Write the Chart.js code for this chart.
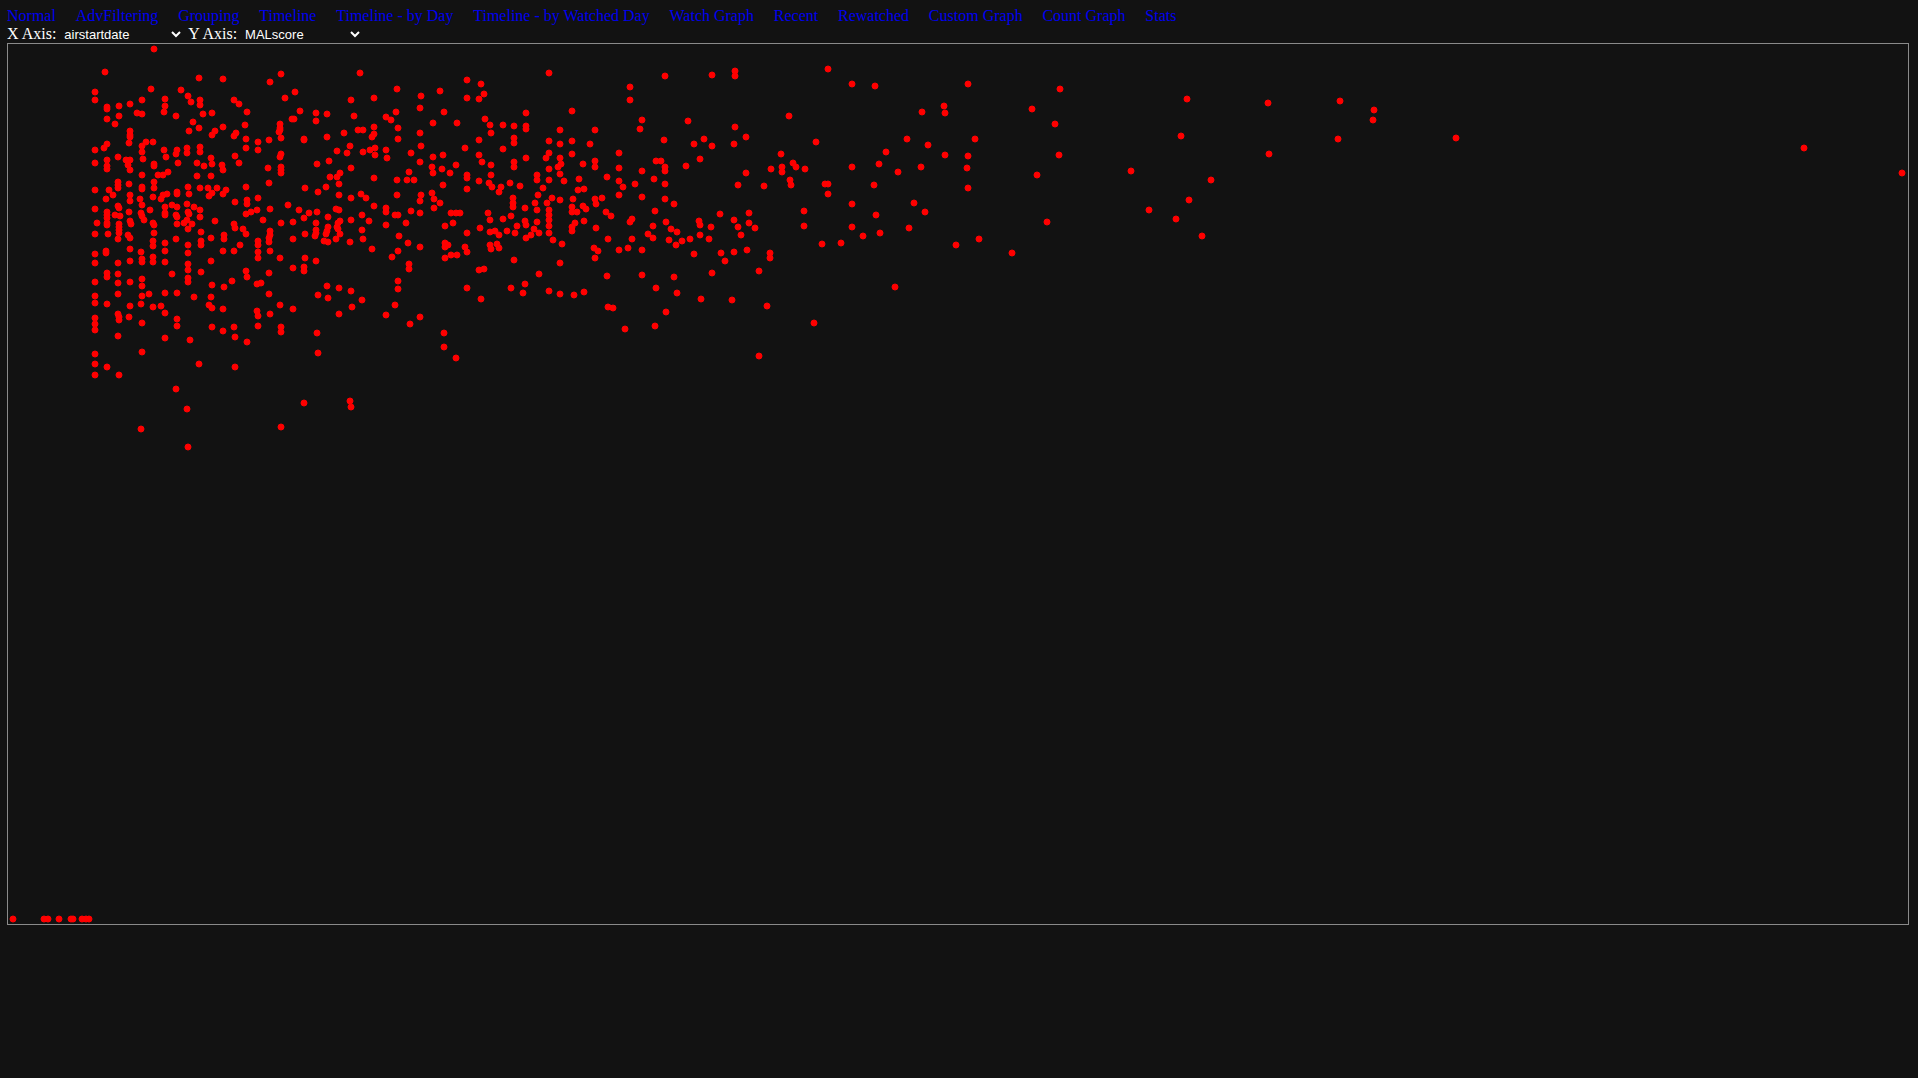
<!DOCTYPE html>
<html>
<head>
<meta charset="utf-8">
<script src="https://cdn.jsdelivr.net/npm/chart.js@4"></script>
<style>
  html, body { margin:0; padding:0; background:#121212; }
  body { width:1918px; height:1078px; overflow:hidden; position:relative; }
  #nav { position:absolute; left:7px; top:6px; display:flex; gap:19.8px; font:16px "Liberation Serif", "Times New Roman", serif; line-height:19px; white-space:nowrap; }
  #nav a { color:#0000ee; text-decoration:none; }
  #ctl { position:absolute; left:7px; top:25px; font:16px "Liberation Serif", "Times New Roman", serif; color:#fff; line-height:18px; white-space:nowrap; display:flex; align-items:center; }
  #ctl select { background:#121212; color:#fff; border:none; font:13px "Liberation Sans", Arial, sans-serif; height:18px; padding:0; margin:0 4px 0 4px; color-scheme:dark; }
  #box { position:absolute; left:7px; top:43px; width:1900px; height:880px; border:1px solid #8a8a8a; }
</style>
</head>
<body>
<div id="nav">
  <a href="#">Normal</a><a href="#">AdvFiltering</a><a href="#">Grouping</a><a href="#">Timeline</a><a href="#">Timeline - by Day</a><a href="#">Timeline - by Watched Day</a><a href="#">Watch Graph</a><a href="#">Recent</a><a href="#">Rewatched</a><a href="#">Custom Graph</a><a href="#">Count Graph</a><a href="#">Stats</a>
</div>
<div id="ctl">
  <span>X Axis:</span>
  <select id="xsel" style="width:124px"><option>airstartdate</option></select>
  <span>Y Axis:</span>
  <select id="ysel" style="width:122px"><option>MALscore</option></select>
</div>
<div id="box"><canvas id="c"></canvas></div>
<script>
// x = airstartdate (decimal year), y = MALscore
const xAxisField = "airstartdate";
const yAxisField = "MALscore";

const unscored = [
[2005.13,0],[2005.44,0],[2005.48,0],[2005.59,0],[2005.71,0],[2005.73,0],[2005.82,0],[2005.86,0],[2005.89,0]
];

const earlyTitles = [
[2006.54,8.70],[2006.05,8.47],[2006.99,8.41],[2007.23,8.40],[2007.81,8.45],[2007.70,8.37],[2008.60,8.46],
[2005.95,8.27],[2005.95,8.19],[2006.51,8.30],[2006.81,8.29],[2006.88,8.23],[2006.91,8.17],[2006.42,8.19],
[2006.30,8.15],[2006.19,8.13],[2006.07,8.12],[2006.07,8.10],[2006.65,8.20],[2006.65,8.13],[2006.64,8.07],
[2007.00,8.19],[2007.00,8.14],[2007.34,8.19],[2007.39,8.15],[2007.85,8.21],[2007.95,8.27],[2008.51,8.19],
[2008.74,8.21],[2008.97,8.30],[2009.21,8.23],[2009.40,8.28],[2009.20,8.11],[2009.44,8.07],[2006.37,8.06],
[2006.42,8.05],[2006.19,8.03],[2006.07,8.00],[2006.15,7.95],[2006.76,8.03],[2007.03,8.05],[2007.12,8.06],
[2006.93,7.97],[2006.89,7.88],[2006.99,7.91],[2007.47,8.07],[2007.45,7.94],[2008.00,8.08],[2007.92,8.00],
[2007.94,8.00],[2008.16,8.06],[2008.27,8.05],[2008.16,7.98],[2008.54,8.03],[2008.86,8.02],[2008.91,7.99],
[2008.96,8.07],[2009.33,7.96],[2009.57,7.96],[2007.80,7.95],[2007.80,7.91],[2007.80,7.89],[2006.30,7.88],
[2006.30,7.84],[2006.30,7.82],[2006.29,7.76],[2007.23,7.92],[2007.15,7.88],[2007.12,7.84],[2007.36,7.86],
[2007.34,7.83],[2007.46,7.80],[2007.58,7.77],[2007.69,7.79],[2007.81,7.81],[2007.79,7.87],[2008.04,7.80],
[2008.04,7.79],[2008.27,7.82],[2008.44,7.86],[2008.58,7.89],[2008.63,7.89],[2008.74,7.92],[2008.74,7.85],
[2008.72,7.82],[2008.98,7.91],[2008.98,7.80],[2009.20,7.86],[2009.21,7.73],[2005.95,7.69],[2006.04,7.71],
[2006.07,7.75],[2006.42,7.73],[2006.46,7.77],[2006.53,7.77],[2006.42,7.67],[2006.64,7.69],[2006.66,7.62],
[2006.77,7.69],[2006.76,7.65],[2006.87,7.71],[2006.87,7.66],[2007.00,7.72],[2007.00,7.67],[2007.46,7.71],
[2007.58,7.69],[2007.81,7.65],[2007.80,7.62],[2008.37,7.68],[2008.50,7.73],[2008.47,7.66],[2008.63,7.67],
[2008.70,7.69],[2008.75,7.71],[2008.75,7.64],[2008.86,7.69],[2008.87,7.61],[2009.11,7.66],[2009.33,7.62],
[2009.43,7.64],[2005.95,7.56],[2006.07,7.59],[2006.18,7.62],[2006.26,7.59],[2006.30,7.59],[2006.28,7.54],
[2006.43,7.60],[2007.35,7.63],[2007.39,7.56],[2007.11,7.61],[2007.12,7.55],[2007.04,7.53],[2007.22,7.54],
[2007.23,7.49],[2008.17,7.55],[2008.29,7.58],[2006.07,7.53],[2006.07,7.50],[2006.54,7.55],[2006.54,7.53],
[2006.78,7.56],[2006.97,7.56],[2006.30,7.49],[2006.42,7.44],[2006.58,7.44],[2006.63,7.44],[2006.68,7.47],
[2006.97,7.43],[2007.11,7.43],[2007.68,7.51],[2007.81,7.52],[2007.81,7.49],[2007.81,7.46],[2008.30,7.42],
[2008.37,7.42],[2008.40,7.46],[2008.51,7.51],[2008.74,7.41],[2008.97,7.39],[2009.09,7.47],[2009.07,7.39],
[2009.14,7.39],[2009.20,7.57],[2009.32,7.52],[2009.33,7.46],[2009.42,7.50],[2009.50,7.46],[2009.56,7.54],
[2006.18,7.37],[2006.18,7.34],[2006.18,7.31],[2006.29,7.35],[2006.42,7.32],[2006.42,7.30],[2006.54,7.37],
[2006.54,7.31],[2005.95,7.29],[2006.09,7.29],[2006.13,7.24],[2006.30,7.24],[2006.30,7.18],[2006.53,7.22],
[2006.63,7.24],[2006.67,7.25],[2006.77,7.27],[2006.77,7.25],[2006.88,7.32],[2006.89,7.25],[2007.00,7.31],
[2007.08,7.31],[2007.17,7.31],[2007.26,7.29],[2007.12,7.26],[2007.09,7.23],[2007.23,7.25],[2007.46,7.32],
[2007.69,7.36],[2008.05,7.31],[2008.26,7.32],[2008.18,7.27],[2008.39,7.35],[2008.39,7.24],[2008.51,7.21],
[2008.61,7.25],[2008.66,7.21],[2008.97,7.24],[2009.21,7.24],[2009.20,7.18],[2009.32,7.26],[2009.34,7.20],
[2009.40,7.16],[2009.43,7.34],[2006.06,7.20],[2006.40,7.20],[2006.42,7.14],[2006.61,7.20],[2006.65,7.12],
[2006.72,7.14],[2006.77,7.12],[2006.87,7.15],[2006.94,7.12],[2007.00,7.09],[2006.18,7.13],[2006.19,7.11],
[2005.95,7.10],[2007.35,7.17],[2007.47,7.19],[2007.47,7.15],[2007.58,7.21],[2007.88,7.14],[2007.99,7.09],
[2007.70,7.10],[2007.46,7.05],[2007.51,7.07],[2007.57,7.09],[2008.09,7.06],[2008.17,7.07],[2008.36,7.10],
[2008.39,7.09],[2008.28,7.02],[2008.38,6.96],[2008.40,6.98],[2008.51,6.99],[2008.74,7.13],[2008.86,7.11],
[2008.86,7.07],[2008.95,7.04],[2008.98,7.04],[2009.11,7.08],[2009.20,7.06],[2009.34,7.11],[2009.51,7.06],
[2009.56,7.06],[2009.60,7.06],[2006.07,7.07],[2006.07,7.04],[2006.07,7.01],[2006.15,7.04],[2006.20,7.03],
[2006.29,7.07],[2006.41,7.06],[2006.42,7.03],[2006.50,7.09],[2006.65,7.06],[2006.65,7.04],[2006.76,7.04],
[2006.77,7.02],[2006.88,7.07],[2006.89,7.05],[2007.00,7.02],[2007.63,6.99],[2008.62,7.04],[2008.69,6.98],
[2005.97,6.96],[2006.07,6.96],[2006.07,6.94],[2006.19,6.95],[2006.19,6.92],[2006.19,6.89],[2006.19,6.86],
[2006.30,6.98],[2006.31,6.95],[2006.44,6.99],[2006.53,6.96],[2006.54,6.94],[2006.77,6.95],[2006.84,6.96],
[2006.87,6.99],[2006.92,6.95],[2006.88,6.90],[2007.15,6.98],[2007.34,6.95],[2007.35,6.91],[2007.81,6.96],
[2007.93,6.97],[2008.04,7.01],[2008.16,6.96],[2008.16,6.89],[2008.28,6.92],[2008.27,6.88],[2008.26,6.85],
[2008.37,6.92],[2008.38,6.90],[2008.40,6.85],[2008.86,6.94],[2009.06,6.96],[2009.53,6.96],[2009.45,6.93],
[2005.95,6.85],[2006.08,6.85],[2006.28,6.84],[2006.30,6.81],[2006.54,6.86],[2007.01,6.87],[2007.43,6.90],
[2007.46,6.85],[2007.70,6.88],[2007.70,6.84],[2007.69,6.81],[2007.69,6.77],[2008.05,6.85],[2008.16,6.86],
[2008.15,6.83],[2008.99,6.83],[2008.62,6.89],[2006.18,6.80],[2006.76,6.80],[2007.11,6.81],[2007.24,6.84],
[2007.24,6.80],[2007.93,6.80],[2008.24,6.78],[2008.28,6.77],[2008.36,6.80],[2008.50,6.77],[2008.63,6.80],
[2009.08,6.76],[2009.20,6.72],[2009.45,6.76],[2009.48,6.74],[2009.45,6.72],[2006.53,6.78],[2006.53,6.73],
[2006.65,6.76],[2006.88,6.74],[2007.01,6.78],[2007.01,6.74],[2007.40,6.74],[2007.58,6.78],[2007.58,6.74],
[2006.30,6.70],[2006.06,6.68],[2006.06,6.66],[2005.95,6.65],[2006.41,6.67],[2006.65,6.68],[2006.88,6.66],
[2007.23,6.68],[2007.34,6.68],[2007.58,6.67],[2007.70,6.68],[2008.72,6.70],[2008.98,6.68],[2009.51,6.64],
[2009.57,6.64],
[2005.95,6.56],[2006.18,6.56],[2006.30,6.58],[2006.42,6.60],[2006.42,6.57],[2006.53,6.62],[2006.53,6.57],
[2006.65,6.57],[2006.88,6.55],[2006.88,6.49],[2006.88,6.41],[2006.88,6.37],[2007.11,6.58],[2007.58,6.61],
[2007.80,6.61],[2008.05,6.61],[2008.04,6.52],[2008.04,6.48],[2008.16,6.58],[2008.92,6.62],[2009.09,6.55],
[2009.09,6.50],[2009.45,6.61],[2006.07,6.46],[2006.07,6.42],[2006.18,6.45],[2005.95,6.37],[2006.18,6.36],
[2006.30,6.37],[2006.42,6.40],[2006.42,6.33],[2006.72,6.45],[2007.01,6.47],[2007.46,6.48],[2007.47,6.42],
[2007.69,6.46],[2007.93,6.51],[2007.12,6.34],[2007.24,6.32],[2007.32,6.38],[2007.57,6.35],[2007.61,6.36],
[2008.27,6.33],[2008.39,6.31],[2008.51,6.28],[2008.98,6.38],[2008.98,6.30],[2005.95,6.23],[2006.18,6.25],
[2006.42,6.23],[2006.49,6.25],[2006.65,6.26],[2006.77,6.26],[2006.94,6.22],[2007.11,6.22],[2007.69,6.25],
[2008.18,6.24],[2008.28,6.21],[2008.62,6.19],[2005.95,6.16],[2006.07,6.15],[2006.30,6.13],[2006.41,6.15],
[2006.53,6.12],[2006.61,6.13],[2007.09,6.14],[2007.12,6.11],[2007.23,6.10],[2007.57,6.08],[2007.58,6.03],
[2007.80,6.14],[2007.93,6.10],[2007.70,6.05],[2008.52,6.12],[2008.39,6.05],[2008.95,6.14],[2008.86,6.04],
[2009.20,6.02],[2009.10,5.95],[2006.18,6.05],[2006.19,6.02],[2006.19,5.99],[2006.29,6.02],[2006.65,6.06],
[2006.77,6.00],[2005.95,6.01],[2005.95,5.95],[2005.95,5.89],[2006.42,5.96],[2006.77,5.93],[2007.12,5.92],
[2007.23,5.88],[2007.34,5.92],[2007.58,5.93],[2007.81,5.92],[2007.81,5.87],[2008.17,5.86],[2009.44,5.86],
[2006.18,5.83],[2006.65,5.81],[2006.90,5.79],[2007.35,5.82],[2007.47,5.77],[2009.44,5.72],[2009.56,5.61],
[2006.42,5.67],[2008.18,5.66],[2005.95,5.65],[2005.95,5.55],[2006.07,5.52],[2005.95,5.44],[2006.19,5.44],
[2006.99,5.55],[2007.35,5.52],[2006.76,5.30],[2006.87,5.10],[2008.04,5.16],[2008.50,5.18],[2008.51,5.12],
[2006.41,4.90],[2007.81,4.92],[2006.88,4.72]
];

const midTitles = [
[2010.49,8.46],[2009.67,8.39],[2009.81,8.35],[2009.84,8.25],[2009.67,8.21],[2009.79,8.20],[2011.65,8.43],
[2012.12,8.44],[2012.35,8.48],[2012.35,8.43],[2013.28,8.50],[2011.30,8.32],[2011.30,8.19],[2010.72,8.08],
[2010.26,8.06],[2009.85,8.00],[2009.90,7.94],[2009.91,7.86],[2010.03,7.94],[2010.14,7.93],[2010.26,7.93],
[2010.26,7.90],[2010.60,7.89],[2010.95,7.89],[2011.42,7.99],[2011.40,7.90],[2011.88,7.98],[2012.89,8.03],
[2012.35,7.92],[2010.14,7.81],[2010.14,7.76],[2009.79,7.79],[2009.65,7.71],[2010.03,7.70],[2010.49,7.78],
[2010.60,7.75],[2010.72,7.78],[2010.90,7.75],[2011.64,7.79],[2011.94,7.75],[2012.04,7.80],[2012.12,7.73],
[2012.34,7.75],[2012.46,7.82],[2013.16,7.77],[2009.79,7.64],[2009.82,7.57],[2009.91,7.54],[2010.14,7.57],
[2010.14,7.52],[2010.26,7.61],[2010.46,7.61],[2010.49,7.66],[2010.49,7.50],[2010.60,7.61],[2010.61,7.55],
[2010.58,7.52],[2010.72,7.65],[2010.83,7.55],[2010.95,7.58],[2010.95,7.52],[2011.19,7.66],[2011.19,7.51],
[2011.42,7.48],[2011.56,7.58],[2011.61,7.58],[2011.65,7.52],[2011.65,7.48],[2011.86,7.53],[2012.00,7.60],
[2012.81,7.65],[2012.71,7.50],[2012.82,7.52],[2012.82,7.47],[2012.93,7.56],[2012.96,7.52],[2013.05,7.50],
[2012.46,7.46],[2009.67,7.44],[2009.67,7.41],[2009.91,7.44],[2009.79,7.38],[2009.89,7.36],[2009.92,7.32],
[2009.99,7.27],[2010.01,7.32],[2010.10,7.36],[2010.20,7.33],[2010.37,7.44],[2010.37,7.39],[2010.49,7.39],
[2010.43,7.31],[2010.60,7.45],[2010.64,7.38],[2010.79,7.40],[2010.78,7.29],[2010.84,7.30],[2011.07,7.42],
[2011.19,7.38],[2011.23,7.32],[2011.35,7.35],[2011.54,7.40],[2011.65,7.35],[2012.38,7.34],[2012.64,7.33],
[2012.90,7.39],[2012.91,7.34],[2013.25,7.35],[2013.28,7.35],[2009.67,7.30],[2013.28,7.25],[2010.13,7.21],
[2010.13,7.16],[2010.13,7.12],[2010.25,7.11],[2010.38,7.24],[2010.35,7.16],[2010.37,7.09],[2010.47,7.16],
[2010.52,7.21],[2010.60,7.19],[2010.49,7.09],[2010.49,7.04],[2010.49,6.99],[2010.49,6.93],[2010.49,6.86],
[2010.73,7.20],[2010.72,7.12],[2010.72,7.07],[2010.77,7.07],[2010.83,7.13],[2010.86,7.10],[2010.95,7.20],
[2010.96,7.15],[2011.02,7.21],[2011.19,7.24],[2011.42,7.22],[2011.65,7.20],[2011.74,7.15],[2011.55,7.08],
[2011.06,7.07],[2011.11,7.03],[2009.88,7.06],[2010.11,7.03],[2010.03,7.00],[2009.90,6.99],[2010.37,6.97],
[2010.25,6.98],[2010.26,6.94],[2010.17,6.93],[2010.75,6.96],[2010.72,6.92],[2010.72,6.88],[2010.84,6.98],
[2010.96,6.91],[2011.30,6.97],[2011.32,7.00],[2011.53,6.93],[2011.66,6.97],[2011.71,6.90],[2011.77,6.87],
[2011.99,6.98],[2012.00,6.94],[2012.11,6.92],[2012.00,6.84],[2012.20,7.05],[2012.34,6.99],[2012.38,6.92],
[2012.49,7.06],[2012.49,6.96],[2012.55,6.91],[2012.41,6.84],[2013.04,7.08],[2013.04,6.93],[2009.80,6.91],
[2009.67,6.86],[2009.90,6.87],[2009.95,6.88],[2009.99,6.84],[2010.07,6.88],[2010.15,6.86],[2010.26,6.81],
[2010.31,6.84],[2010.34,6.90],[2010.39,6.86],[2010.53,6.79],[2010.62,6.75],[2011.08,6.80],[2011.32,6.80],
[2011.48,6.85],[2011.53,6.81],[2011.69,6.79],[2011.76,6.74],[2011.82,6.78],[2011.90,6.80],[2012.09,6.80],
[2009.65,6.72],[2009.67,6.67],[2009.90,6.74],[2009.91,6.70],[2009.97,6.75],[2009.99,6.71],[2010.94,6.71],
[2010.98,6.68],[2011.19,6.69],[2011.28,6.71],[2011.42,6.69],[2011.94,6.65],[2012.21,6.66],[2012.34,6.67],
[2012.47,6.69],[2012.70,6.66],[2013.22,6.75],
[2010.14,6.59],[2010.60,6.56],[2010.95,6.61],[2012.25,6.58],[2012.70,6.61],[2009.79,6.49],[2009.84,6.50],
[2010.39,6.45],[2011.07,6.43],[2011.42,6.44],[2011.74,6.42],[2012.12,6.46],[2012.59,6.48],[2009.67,6.31],
[2010.11,6.31],[2010.25,6.35],[2010.23,6.26],[2010.49,6.28],[2010.60,6.25],[2010.74,6.24],[2010.84,6.27],
[2011.56,6.31],[2011.77,6.26],[2009.81,6.20],[2012.01,6.20],[2012.32,6.19],[2011.08,6.12],[2011.13,6.11],
[2011.66,6.07],[2012.67,6.13],[2011.25,5.90],[2011.55,5.93],[2013.14,5.96],[2012.59,5.63]
];

const lateTitles = [
[2013.52,8.35],[2013.75,8.33],[2014.68,8.35],[2015.60,8.30],[2014.44,8.13],[2014.45,8.06],[2014.22,8.07],
[2015.32,8.10],[2015.55,7.95],[2016.87,8.20],[2017.68,8.16],[2018.40,8.18],[2014.07,7.80],[2014.28,7.74],
[2014.75,7.80],[2013.86,7.67],[2014.45,7.64],[2014.68,7.63],[2015.59,7.64],[2016.81,7.83],[2018.38,7.80],
[2017.69,7.65],[2013.52,7.52],[2013.79,7.55],[2013.98,7.47],[2014.21,7.52],[2014.67,7.51],[2015.37,7.44],
[2016.31,7.48],[2017.11,7.39],[2013.74,7.34],[2014.68,7.31],[2013.52,7.15],[2014.14,7.16],[2014.25,7.07],
[2013.76,7.04],[2016.89,7.19],[2016.49,7.09],[2016.76,7.00],[2013.52,6.92],[2013.63,6.83],[2013.80,6.86],
[2014.09,6.91],[2013.41,6.76],[2014.56,6.74],[2014.79,6.80],[2015.12,6.66],[2015.47,6.97],[2017.02,6.83],
[2013.95,6.32],
[2018.74,8.09],[2018.73,7.99],[2019.56,7.81],[2023.04,7.71],[2024.02,7.46]
];

const xMin = 2005.13, xMax = 2024.03;
const yMin = 0, yMax = 8.70;

const allPoints = [].concat(unscored, earlyTitles, midTitles, lateTitles).map(p => ({ x: p[0], y: p[1] }));

new Chart(document.getElementById('c'), {
  type: 'scatter',
  data: {
    datasets: [{
      label: yAxisField + ' vs ' + xAxisField,
      data: allPoints,
      backgroundColor: '#ff0000',
      borderColor: '#ff0000',
      pointRadius: 3,
      pointBorderWidth: 1,
      clip: false
    }]
  },
  options: {
    responsive: true,
    maintainAspectRatio: false,
    animation: false,
    plugins: { legend: { display: false }, tooltip: { enabled: false } },
    scales: {
      x: { type: 'linear', display: false, min: xMin, max: xMax },
      y: { type: 'linear', display: false, min: yMin, max: yMax }
    }
  }
});
</script>
</body>
</html>
